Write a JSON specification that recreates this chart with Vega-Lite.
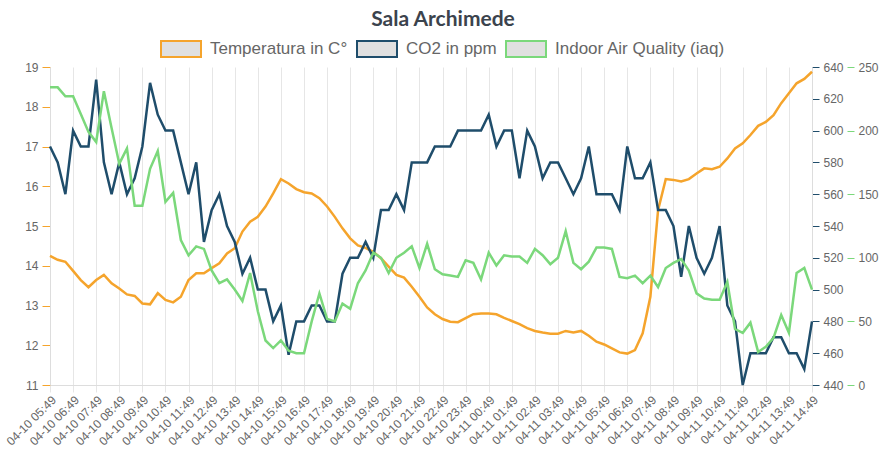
{
  "$schema": "https://vega.github.io/schema/vega-lite/v6.json",
  "description": "Sala Archimede - temperatura, CO2, IAQ",
  "width": 762,
  "height": 318,
  "autosize": {"type": "none"},
  "padding": {"left": 50, "top": 67, "right": 73, "bottom": 75},
  "background": "white",
  "title": {
    "text": "Sala Archimede",
    "font": "Lato",
    "fontSize": 21,
    "fontWeight": "bold",
    "color": "#3b434d",
    "anchor": "middle",
    "dx": 12,
    "dy": 10,
    "offset": 8
  },
  "data": {
    "values": [
      {"t": "04-10 05:49", "temp": 14.25, "co2": 590, "iaq": 234},
      {"t": "04-10 06:09", "temp": 14.15, "co2": 580, "iaq": 234},
      {"t": "04-10 06:29", "temp": 14.10, "co2": 560, "iaq": 227},
      {"t": "04-10 06:49", "temp": 13.87, "co2": 600, "iaq": 227},
      {"t": "04-10 07:09", "temp": 13.64, "co2": 590, "iaq": 213},
      {"t": "04-10 07:29", "temp": 13.46, "co2": 590, "iaq": 199},
      {"t": "04-10 07:49", "temp": 13.64, "co2": 632, "iaq": 191},
      {"t": "04-10 08:09", "temp": 13.77, "co2": 580, "iaq": 231},
      {"t": "04-10 08:29", "temp": 13.56, "co2": 560, "iaq": 202},
      {"t": "04-10 08:49", "temp": 13.43, "co2": 580, "iaq": 174},
      {"t": "04-10 09:09", "temp": 13.28, "co2": 560, "iaq": 186},
      {"t": "04-10 09:29", "temp": 13.24, "co2": 570, "iaq": 141},
      {"t": "04-10 09:49", "temp": 13.05, "co2": 590, "iaq": 141},
      {"t": "04-10 10:09", "temp": 13.03, "co2": 630, "iaq": 170},
      {"t": "04-10 10:29", "temp": 13.31, "co2": 610, "iaq": 184},
      {"t": "04-10 10:49", "temp": 13.14, "co2": 600, "iaq": 144},
      {"t": "04-10 11:09", "temp": 13.08, "co2": 600, "iaq": 151},
      {"t": "04-10 11:29", "temp": 13.22, "co2": 580, "iaq": 114},
      {"t": "04-10 11:49", "temp": 13.64, "co2": 560, "iaq": 102},
      {"t": "04-10 12:09", "temp": 13.81, "co2": 580, "iaq": 109},
      {"t": "04-10 12:29", "temp": 13.81, "co2": 530, "iaq": 107},
      {"t": "04-10 12:49", "temp": 13.94, "co2": 550, "iaq": 90},
      {"t": "04-10 13:09", "temp": 14.06, "co2": 560, "iaq": 80},
      {"t": "04-10 13:29", "temp": 14.31, "co2": 540, "iaq": 83},
      {"t": "04-10 13:49", "temp": 14.44, "co2": 530, "iaq": 75},
      {"t": "04-10 14:09", "temp": 14.86, "co2": 510, "iaq": 66},
      {"t": "04-10 14:29", "temp": 15.11, "co2": 520, "iaq": 88},
      {"t": "04-10 14:49", "temp": 15.23, "co2": 500, "iaq": 58},
      {"t": "04-10 15:09", "temp": 15.49, "co2": 500, "iaq": 35},
      {"t": "04-10 15:29", "temp": 15.82, "co2": 480, "iaq": 29},
      {"t": "04-10 15:49", "temp": 16.18, "co2": 490, "iaq": 35},
      {"t": "04-10 16:09", "temp": 16.07, "co2": 459, "iaq": 27},
      {"t": "04-10 16:29", "temp": 15.93, "co2": 480, "iaq": 25},
      {"t": "04-10 16:49", "temp": 15.85, "co2": 480, "iaq": 25},
      {"t": "04-10 17:09", "temp": 15.82, "co2": 490, "iaq": 50},
      {"t": "04-10 17:29", "temp": 15.70, "co2": 490, "iaq": 72},
      {"t": "04-10 17:49", "temp": 15.49, "co2": 480, "iaq": 52},
      {"t": "04-10 18:09", "temp": 15.23, "co2": 480, "iaq": 50},
      {"t": "04-10 18:29", "temp": 14.94, "co2": 510, "iaq": 64},
      {"t": "04-10 18:49", "temp": 14.69, "co2": 520, "iaq": 60},
      {"t": "04-10 19:09", "temp": 14.51, "co2": 520, "iaq": 80},
      {"t": "04-10 19:29", "temp": 14.45, "co2": 530, "iaq": 90},
      {"t": "04-10 19:49", "temp": 14.35, "co2": 520, "iaq": 104},
      {"t": "04-10 20:09", "temp": 14.19, "co2": 550, "iaq": 100},
      {"t": "04-10 20:29", "temp": 13.98, "co2": 550, "iaq": 88},
      {"t": "04-10 20:49", "temp": 13.77, "co2": 560, "iaq": 100},
      {"t": "04-10 21:09", "temp": 13.70, "co2": 550, "iaq": 104},
      {"t": "04-10 21:29", "temp": 13.47, "co2": 580, "iaq": 109},
      {"t": "04-10 21:49", "temp": 13.22, "co2": 580, "iaq": 92},
      {"t": "04-10 22:09", "temp": 12.95, "co2": 580, "iaq": 111},
      {"t": "04-10 22:29", "temp": 12.78, "co2": 590, "iaq": 91},
      {"t": "04-10 22:49", "temp": 12.66, "co2": 590, "iaq": 87},
      {"t": "04-10 23:09", "temp": 12.59, "co2": 590, "iaq": 86},
      {"t": "04-10 23:29", "temp": 12.58, "co2": 600, "iaq": 85},
      {"t": "04-10 23:49", "temp": 12.68, "co2": 600, "iaq": 98},
      {"t": "04-11 00:09", "temp": 12.78, "co2": 600, "iaq": 96},
      {"t": "04-11 00:29", "temp": 12.80, "co2": 600, "iaq": 83},
      {"t": "04-11 00:49", "temp": 12.80, "co2": 610, "iaq": 104},
      {"t": "04-11 01:09", "temp": 12.78, "co2": 590, "iaq": 94},
      {"t": "04-11 01:29", "temp": 12.69, "co2": 600, "iaq": 102},
      {"t": "04-11 01:49", "temp": 12.61, "co2": 600, "iaq": 101},
      {"t": "04-11 02:09", "temp": 12.53, "co2": 570, "iaq": 101},
      {"t": "04-11 02:29", "temp": 12.43, "co2": 600, "iaq": 96},
      {"t": "04-11 02:49", "temp": 12.36, "co2": 590, "iaq": 107},
      {"t": "04-11 03:09", "temp": 12.32, "co2": 570, "iaq": 102},
      {"t": "04-11 03:29", "temp": 12.29, "co2": 580, "iaq": 95},
      {"t": "04-11 03:49", "temp": 12.29, "co2": 580, "iaq": 100},
      {"t": "04-11 04:09", "temp": 12.36, "co2": 570, "iaq": 121},
      {"t": "04-11 04:29", "temp": 12.32, "co2": 560, "iaq": 96},
      {"t": "04-11 04:49", "temp": 12.36, "co2": 570, "iaq": 91},
      {"t": "04-11 05:09", "temp": 12.24, "co2": 590, "iaq": 97},
      {"t": "04-11 05:29", "temp": 12.09, "co2": 560, "iaq": 108},
      {"t": "04-11 05:49", "temp": 12.02, "co2": 560, "iaq": 108},
      {"t": "04-11 06:09", "temp": 11.92, "co2": 560, "iaq": 107},
      {"t": "04-11 06:29", "temp": 11.82, "co2": 550, "iaq": 85},
      {"t": "04-11 06:49", "temp": 11.79, "co2": 590, "iaq": 84},
      {"t": "04-11 07:09", "temp": 11.88, "co2": 570, "iaq": 86},
      {"t": "04-11 07:29", "temp": 12.30, "co2": 570, "iaq": 80},
      {"t": "04-11 07:49", "temp": 13.22, "co2": 580, "iaq": 86},
      {"t": "04-11 08:09", "temp": 15.40, "co2": 550, "iaq": 77},
      {"t": "04-11 08:29", "temp": 16.18, "co2": 550, "iaq": 92},
      {"t": "04-11 08:49", "temp": 16.16, "co2": 540, "iaq": 96},
      {"t": "04-11 09:09", "temp": 16.12, "co2": 508, "iaq": 99},
      {"t": "04-11 09:29", "temp": 16.18, "co2": 540, "iaq": 90},
      {"t": "04-11 09:49", "temp": 16.32, "co2": 520, "iaq": 72},
      {"t": "04-11 10:09", "temp": 16.45, "co2": 510, "iaq": 68},
      {"t": "04-11 10:29", "temp": 16.43, "co2": 520, "iaq": 67},
      {"t": "04-11 10:49", "temp": 16.49, "co2": 540, "iaq": 67},
      {"t": "04-11 11:09", "temp": 16.70, "co2": 490, "iaq": 81},
      {"t": "04-11 11:29", "temp": 16.95, "co2": 480, "iaq": 44},
      {"t": "04-11 11:49", "temp": 17.08, "co2": 440, "iaq": 41},
      {"t": "04-11 12:09", "temp": 17.29, "co2": 460, "iaq": 49},
      {"t": "04-11 12:29", "temp": 17.52, "co2": 460, "iaq": 26},
      {"t": "04-11 12:49", "temp": 17.62, "co2": 460, "iaq": 30},
      {"t": "04-11 13:09", "temp": 17.79, "co2": 470, "iaq": 37},
      {"t": "04-11 13:29", "temp": 18.09, "co2": 470, "iaq": 55},
      {"t": "04-11 13:49", "temp": 18.34, "co2": 460, "iaq": 41},
      {"t": "04-11 14:09", "temp": 18.59, "co2": 460, "iaq": 88},
      {"t": "04-11 14:29", "temp": 18.70, "co2": 450, "iaq": 92},
      {"t": "04-11 14:49", "temp": 18.88, "co2": 480, "iaq": 75}
    ]
  },
  "encoding": {
    "x": {
      "field": "t",
      "type": "ordinal",
      "scale": {"type": "point", "padding": 0},
      "axis": {
        "title": null,
        "values": [
          "04-10 05:49", "04-10 06:49", "04-10 07:49", "04-10 08:49", "04-10 09:49",
          "04-10 10:49", "04-10 11:49", "04-10 12:49", "04-10 13:49", "04-10 14:49",
          "04-10 15:49", "04-10 16:49", "04-10 17:49", "04-10 18:49", "04-10 19:49",
          "04-10 20:49", "04-10 21:49", "04-10 22:49", "04-10 23:49", "04-11 00:49",
          "04-11 01:49", "04-11 02:49", "04-11 03:49", "04-11 04:49", "04-11 05:49",
          "04-11 06:49", "04-11 07:49", "04-11 08:49", "04-11 09:49", "04-11 10:49",
          "04-11 11:49", "04-11 12:49", "04-11 13:49", "04-11 14:49"
        ],
        "grid": true,
        "gridColor": "#e6e6e6",
        "domainColor": "#dddddd",
        "tickColor": "#e6e6e6",
        "tickSize": 7,
        "labelAngle": -45,
        "labelFont": "Liberation Sans",
        "labelFontSize": 12,
        "labelColor": "#666666",
        "labelPadding": 2
      }
    }
  },
  "layer": [
    {
      "mark": {"type": "line", "strokeWidth": 2.5},
      "encoding": {
        "y": {
          "field": "temp",
          "type": "quantitative",
          "scale": {"domain": [11, 19], "nice": false, "zero": false},
          "axis": {
            "orient": "left",
            "title": null,
            "values": [11, 12, 13, 14, 15, 16, 17, 18, 19],
            "grid": false,
            "domainColor": "#dddddd",
            "tickColor": "#f5a42c",
            "tickSize": 8,
            "labelFont": "Liberation Sans",
            "labelFontSize": 12,
            "labelColor": "#666666",
            "labelPadding": 4
          }
        },
        "color": {
          "datum": "Temperatura in C°",
          "type": "nominal",
          "scale": {
            "domain": ["Temperatura in C°", "CO2 in ppm", "Indoor Air Quality (iaq)"],
            "range": ["#f5a42c", "#1f4d6b", "#7bd87b"]
          },
          "legend": {
            "orient": "none",
            "legendX": 110,
            "legendY": -39,
            "direction": "horizontal",
            "title": null,
            "symbolType": "M-1,-0.4H1V0.4H-1Z",
            "symbolSize": 1600,
            "symbolStrokeWidth": 2,
            "labelFont": "Liberation Sans",
            "labelFontSize": 17,
            "labelColor": "#666666",
            "labelOffset": 8,
            "columnPadding": 5,
            "labelLimit": 300,
            "encode": {
              "symbols": {
                "update": {
                  "fill": {"value": "#e0e0e0"},
                  "fillOpacity": {"value": 1},
                  "opacity": {"value": 1}
                }
              }
            }
          }
        }
      }
    },
    {
      "mark": {"type": "line", "strokeWidth": 2.5},
      "encoding": {
        "y": {
          "field": "co2",
          "type": "quantitative",
          "scale": {"domain": [440, 640], "nice": false, "zero": false},
          "axis": {
            "orient": "right",
            "title": null,
            "values": [440, 460, 480, 500, 520, 540, 560, 580, 600, 620, 640],
            "grid": false,
            "domainColor": "#dddddd",
            "tickColor": "#1f4d6b",
            "tickSize": 7,
            "labelFont": "Liberation Sans",
            "labelFontSize": 12,
            "labelColor": "#666666",
            "labelPadding": 4
          }
        },
        "color": {"datum": "CO2 in ppm", "type": "nominal"}
      }
    },
    {
      "mark": {"type": "line", "strokeWidth": 2.5},
      "encoding": {
        "y": {
          "field": "iaq",
          "type": "quantitative",
          "scale": {"domain": [0, 250], "nice": false},
          "axis": {
            "orient": "right",
            "offset": 35,
            "title": null,
            "values": [0, 50, 100, 150, 200, 250],
            "grid": false,
            "domain": false,
            "tickColor": "#7bd87b",
            "tickSize": 7,
            "labelFont": "Liberation Sans",
            "labelFontSize": 12,
            "labelColor": "#666666",
            "labelPadding": 4
          }
        },
        "color": {"datum": "Indoor Air Quality (iaq)", "type": "nominal"}
      }
    }
  ],
  "resolve": {"scale": {"y": "independent"}, "axis": {"y": "independent"}},
  "config": {"view": {"stroke": null}}
}
